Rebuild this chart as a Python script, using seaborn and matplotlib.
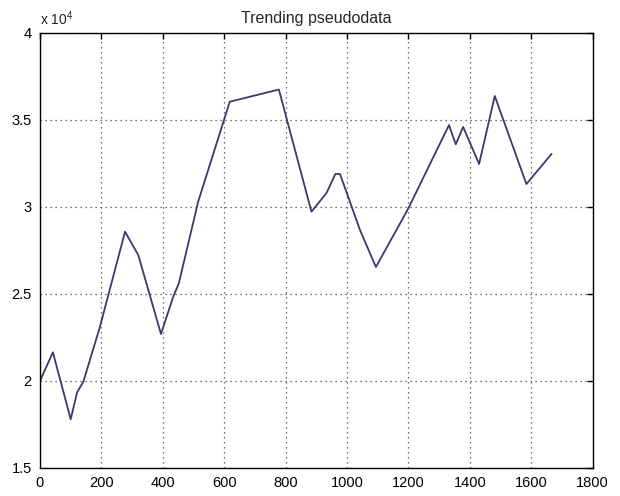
import matplotlib
matplotlib.use("Agg")
import matplotlib.pyplot as plt
import seaborn as sns
import pandas as pd
from matplotlib.ticker import FuncFormatter

# values (y in plain units, shown as x 10^4)
x_vals = [0, 42, 100, 121, 141, 195, 277, 320, 394, 434, 452, 515, 618, 778,
          884, 933, 962, 977, 1042, 1094, 1199, 1332, 1354, 1378, 1430, 1481,
          1584, 1666]
y_vals = [20000, 21650, 17800, 19350, 19950, 23100, 28580, 27240, 22700,
          24850, 25600, 30300, 36050, 36750, 29730, 30800, 31900, 31900,
          28680, 26550, 29900, 34710, 33600, 34600, 32470, 36380, 31320,
          33050]

x_ticks = [0, 200, 400, 600, 800, 1000, 1200, 1400, 1600, 1800]
y_ticks = [15000, 20000, 25000, 30000, 35000, 40000]
title = "Trending pseudodata"

df = pd.DataFrame({"x": x_vals, "y": y_vals})

sns.set_style("white")
plt.rcParams["font.family"] = ["Liberation Sans", "DejaVu Sans"]
plt.rcParams["mathtext.fontset"] = "custom"
plt.rcParams["mathtext.rm"] = "Liberation Sans"

fig = plt.figure(figsize=(6.2, 4.96), dpi=100)
ax = fig.add_axes([0.0645, 0.0565, 0.8915, 0.8770])

sns.lineplot(data=df, x="x", y="y", ax=ax, color="#3a3a70",
             linewidth=1.3, estimator=None, sort=False)

ax.set_xlim(0, 1800)
ax.set_ylim(15000, 40000)
ax.set_xticks(x_ticks)
ax.set_yticks(y_ticks)
ax.yaxis.set_major_formatter(FuncFormatter(lambda v, p: f"{v / 1e4:g}"))
ax.set_xlabel("")
ax.set_ylabel("")

ax.grid(True, linestyle=(0, (1, 3)), color="#444444", linewidth=0.9)
ax.tick_params(direction="in", top=True, right=True, length=4, width=1,
               labelsize=10.5, pad=6, colors="black")
for s in ax.spines.values():
    s.set_color("black")
    s.set_linewidth(1.0)

ax.set_title(title, fontsize=11.5, pad=7)
ax.text(0.0, 1.012, r"x 10$^{4}$", transform=ax.transAxes,
        fontsize=10, ha="left", va="bottom", color="#222222")

fig.savefig("out.png", dpi=100)
